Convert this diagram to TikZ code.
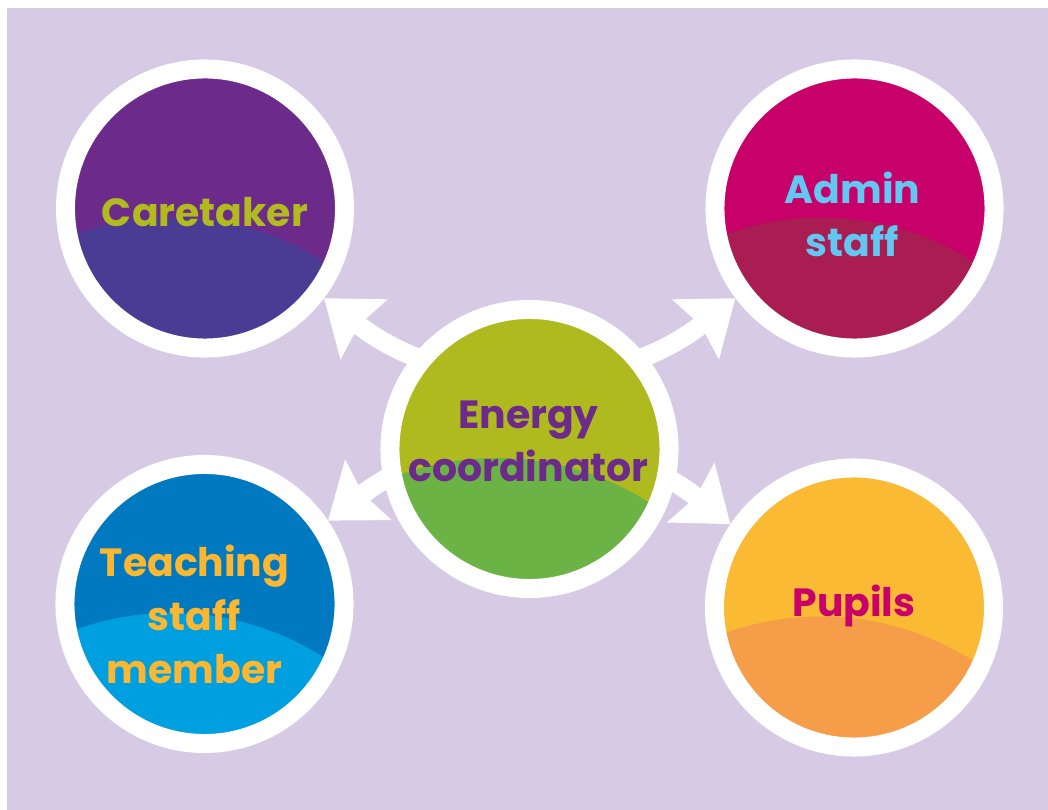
\documentclass[tikz,border=0pt]{standalone}
\usepackage{fontspec}
\setmainfont{Poppins}
\usetikzlibrary{arrows.meta}
\usetikzlibrary{calc}
\usetikzlibrary{backgrounds}
\definecolor{lavender}{HTML}{D6CAE4}
\definecolor{careTop}{HTML}{6C2B8B}
\definecolor{careLow}{HTML}{4A3B94}
\definecolor{careText}{HTML}{B1BA1E}
\definecolor{adminTop}{HTML}{C8006A}
\definecolor{adminLow}{HTML}{A91D52}
\definecolor{adminText}{HTML}{62C8F2}
\definecolor{energyTop}{HTML}{AFBA1E}
\definecolor{energyLow}{HTML}{6CB345}
\definecolor{energyText}{HTML}{6C2B8B}
\definecolor{teachTop}{HTML}{0079C0}
\definecolor{teachLow}{HTML}{009FDF}
\definecolor{teachText}{HTML}{FBB731}
\definecolor{pupilTop}{HTML}{FBBA33}
\definecolor{pupilLow}{HTML}{F59D48}
\definecolor{pupilText}{HTML}{C8006A}

\begin{document}
\begin{tikzpicture}[x=0.025cm,y=0.025cm,
  disc/.style={circle,draw=white,line width=0.475cm,minimum size=6.975cm,inner sep=0pt,
    path picture={\fill[#1] (path picture bounding box.center) ++(-0.825cm,-7.3cm) circle (7.075cm);}},
  txt/.style={font=\fontsize{28}{38}\selectfont\bfseries,align=center,inner sep=0pt},
  flow/.style={white,line width=0.48cm,
    {Stealth[length=1.25cm,width=1.85cm,inset=0.15cm]}-{Stealth[length=1.25cm,width=1.85cm,inset=0.15cm]}}]
  \useasboundingbox (0,0) rectangle (1048,810);
  \node[disc=careLow,fill=careTop] (care) at (205,601.5) {};
  \node[disc=adminLow,fill=adminTop] (admin) at (854.5,601.5) {};
  \node[disc=energyLow,fill=energyTop] (energy) at (529.5,361) {};
  \node[disc=teachLow,fill=teachTop] (teach) at (204.5,206) {};
  \node[disc=pupilLow,fill=pupilTop] (pupil) at (854,202.5) {};
  \node[txt,text=careText] (careT) at ($(care)+(0,-4)$) {Caretaker};
  \node[txt,text=adminText] (adminT) at ($(admin)+(-2,-6)$) {Admin\\staff};
  \node[txt,text=energyText] (energyT) at ($(energy)+(-1,7.5)$) {Energy\\coordinator};
  \node[txt,text=teachText] (teachT) at ($(teach)+(-10,-10.5)$) {Teaching\\staff\\member};
  \node[txt,text=pupilText] (pupilT) at ($(pupil)+(0,2)$) {Pupils};
  \begin{scope}[on background layer]
    \fill[white] (0,0) rectangle (1048,810);
    \fill[lavender] (7,0) rectangle (1048,802);
    \draw[flow] (care.-37) to[bend right=38] (admin.217);
    \draw[flow] (teach.34) to[bend left=38] (pupil.146);
  \end{scope}
\end{tikzpicture}
\end{document}
